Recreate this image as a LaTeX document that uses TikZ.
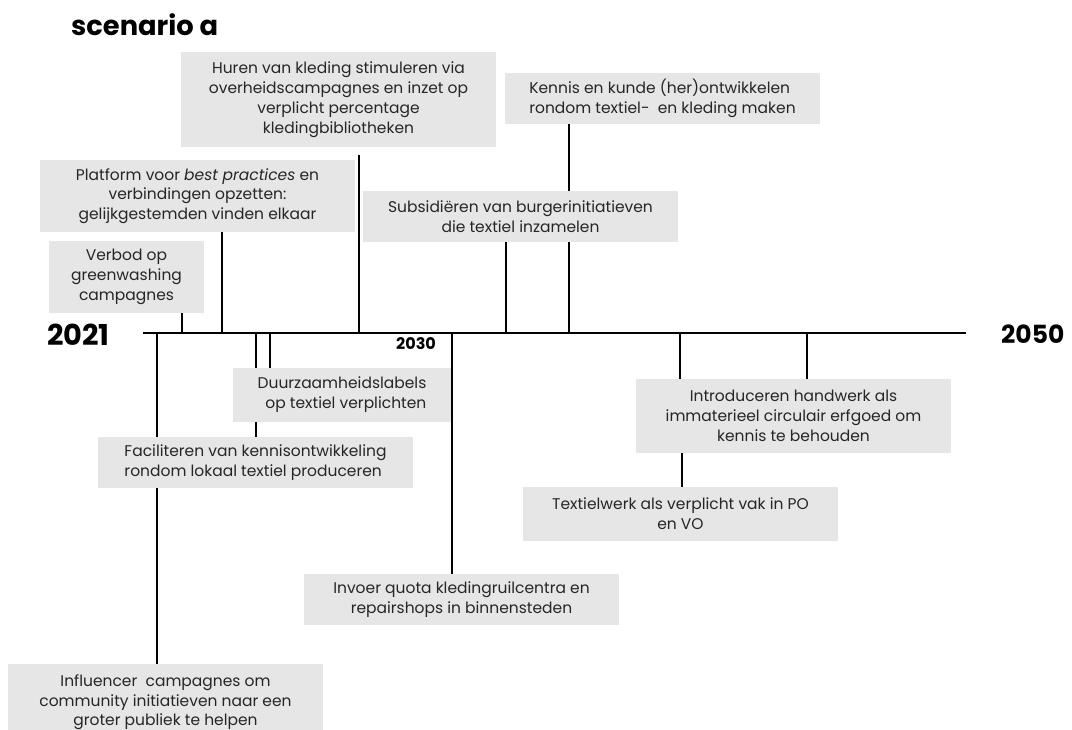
\documentclass[tikz,border=0pt]{standalone}
\usepackage{fontspec}
\setmainfont{Poppins}
\usetikzlibrary{backgrounds}
\definecolor{boxgray}{HTML}{E6E6E6}
\definecolor{inkgray}{HTML}{262626}
\tikzset{
  event/.style={fill=boxgray, inner sep=0pt, text=inkgray,
    font=\fontsize{15.5}{19.8}\selectfont, align=center},
  link/.style={line width=1.6pt, black},
  axis/.style={line width=1.6pt, black},
  year/.style={font=\bfseries\fontsize{28.8}{30}\selectfont, anchor=base west, inner sep=0pt},
}
\begin{document}
\begin{tikzpicture}[x=1pt, y=-1pt]
\useasboundingbox (0,0) rectangle (1072,729);
\clip (0,0) rectangle (1072,729);

% title and year labels
\node[font=\bfseries\fontsize{27.3}{30}\selectfont, anchor=base west, inner sep=0pt] (title) at (71,35) {scenario a};
\node[year] (y2021) at (47,345) {2021};
\node[year, font=\bfseries\fontsize{25}{27}\selectfont] (y2050) at (1001,343) {2050};
\node[year, font=\bfseries\fontsize{16}{18}\selectfont] (y2030) at (396,349) {2030};

% events above the axis
\node[event, minimum width=315pt, minimum height=95pt] (huren) at (338.5,99.5)
  {Huren van kleding stimuleren via\\overheidscampagnes en inzet op\\verplicht percentage\\kledingbibliotheken};
\node[event, minimum width=315pt, minimum height=72pt] (platform) at (197.5,196)
  {Platform voor \textit{best practices} en\\verbindingen opzetten:\\gelijkgestemden vinden elkaar};
\node[event, minimum width=155pt, minimum height=72pt] (verbod) at (126.5,277)
  {Verbod op\\greenwashing\\campagnes};
\node[event, minimum width=315pt, minimum height=51pt, align=left] (kennis) at (662.5,98.5)
  {Kennis en kunde (her)ontwikkelen\\rondom textiel-\ \ en kleding maken};
\node[event, minimum width=315pt, minimum height=51pt] (subsidie) at (520.5,216.5)
  {Subsidiëren van burgerinitiatieven\\die textiel inzamelen};

% events below the axis
\node[event, minimum width=218pt, minimum height=54pt, align=right] (labels) at (342,395)
  {Duurzaamheidslabels\\op textiel verplichten};
\node[event, minimum width=315pt, minimum height=51pt, align=left] (facil) at (255.5,462.5)
  {Faciliteren van kennisontwikkeling\\rondom lokaal textiel produceren};
\node[event, minimum width=315pt, minimum height=74pt] (handwerk) at (793.5,416)
  {Introduceren handwerk als\\immaterieel circulair erfgoed om\\kennis te behouden};
\node[event, minimum width=315pt, minimum height=54pt] (vak) at (680.5,514)
  {Textielwerk als verplicht vak in PO\\en VO};
\node[event, minimum width=315pt, minimum height=51pt] (quota) at (461.5,599.5)
  {Invoer quota kledingruilcentra en\\repairshops in binnensteden};
\node[event, minimum width=315pt, minimum height=76pt, anchor=north] (influencer) at (165.5,664)
  {Influencer\ \ campagnes om\\community initiatieven naar een\\groter publiek te helpen};

% axis and connectors
\coordinate (start) at (143,333);
\coordinate (end) at (966,333);
\coordinate (tVerbod) at (182,333);
\coordinate (tPlatform) at (222,333);
\coordinate (tHuren) at (359,333);
\coordinate (tSubsidie) at (506,333);
\coordinate (tKennis) at (569,333);
\coordinate (tInfluencer) at (157,333);
\coordinate (tFacil) at (256,333);
\coordinate (tLabels) at (270,333);
\coordinate (tQuota) at (452,333);
\coordinate (tHandA) at (680,333);
\coordinate (tHandB) at (807,333);
\coordinate (hVak) at (682,453);

\begin{scope}[on background layer]
  \draw[axis] (start) -- (end);
  \draw[link] (tVerbod) -- (tVerbod |- verbod.south);
  \draw[link] (tPlatform) -- (tPlatform |- platform.south);
  \draw[link] (tHuren) -- ([yshift=-8pt]tHuren |- huren.south);
  \draw[link] (tSubsidie) -- (tSubsidie |- subsidie.south);
  \draw[link] (tKennis) -- (tKennis |- kennis.south);
  \draw[link] (tInfluencer) -- (tInfluencer |- influencer.north);
  \draw[link] (tFacil) -- (tFacil |- facil.north);
  \draw[link] (tLabels) -- (tLabels |- labels.north);
  \draw[link] (tQuota) -- (tQuota |- quota.north);
  \draw[link] (tHandA) -- (tHandA |- handwerk.north);
  \draw[link] (tHandB) -- (tHandB |- handwerk.north);
  \draw[link] (hVak |- handwerk.south) -- (hVak |- vak.north);
\end{scope}
\end{tikzpicture}
\end{document}
